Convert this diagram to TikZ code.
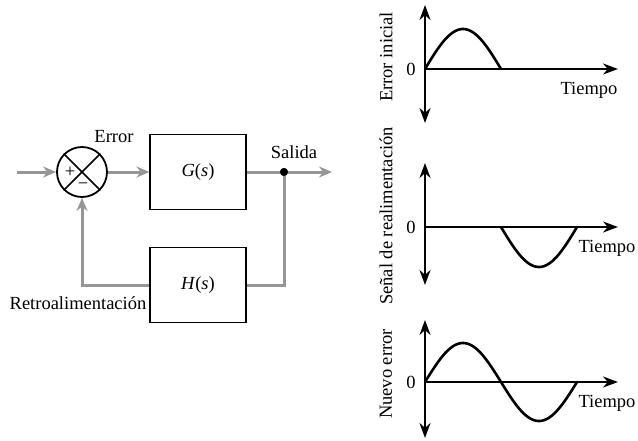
\documentclass[tikz,border=0pt]{standalone}
\usepackage{fontspec}
\setmainfont{Liberation Serif}
\usetikzlibrary{arrows.meta}
\definecolor{flow}{RGB}{150,150,150}
\begin{document}
\begin{tikzpicture}[x=1pt,y=-1pt,
  txt/.style={font=\fontsize{18.5}{22}\selectfont, inner sep=0pt},
  sig/.style={draw=flow, line width=3pt},
  sigarrow/.style={sig, -{Stealth[length=13pt,width=11pt]}},
  blockbox/.style={draw=black, line width=1.1pt, minimum width=96pt, minimum height=75pt, inner sep=0pt},
  axis/.style={draw=black, line width=2.2pt, {Stealth[length=15pt,width=11pt]}-{Stealth[length=15pt,width=11pt]}},
  xaxis/.style={draw=black, line width=2.2pt, -{Stealth[length=15pt,width=11pt]}},
  wave/.style={draw=black, line width=2.6pt},
]
\useasboundingbox (0,0) rectangle (638,440);

% ---- block diagram ----
\coordinate (in) at (17,172);
\node[circle, draw=black, line width=1.8pt, minimum size=50pt, inner sep=0pt] (sum) at (82,172) {};
\draw[line width=1.5pt] (sum.north west) -- (sum.south east) (sum.north east) -- (sum.south west);
\node[txt] (plus) at (70,172) {+};
\node[txt] (minus) at (83,186) {−};
\node[blockbox, txt] (G) at (198,172) {\textit{G}(\textit{s})};
\node[blockbox, txt] (H) at (198,285) {\textit{H}(\textit{s})};
\node[circle, fill=black, minimum size=8pt, inner sep=0pt] (dot) at (284,172) {};
\coordinate (out) at (332,172);

\draw[sigarrow] (in) -- (sum.west);
\draw[sigarrow] (sum.east) -- (G.west);
\draw[sig] (G.east) -- (dot.center);
\draw[sigarrow] (dot.center) -- (out);
\draw[sig] (dot.center) |- (H.east);
\draw[sigarrow] (H.west) -| (sum.south);
\node[circle, fill=black, minimum size=8pt, inner sep=0pt] at (dot) {};

\node[txt] (lerr) at (114,137) {Error};
\node[txt] (lsal) at (294,152) {Salida};
\node[txt] (lret) at (78,303) {Retroalimentación};

% ---- plot 1 ----
\coordinate (o1) at (425,69);
\coordinate (t1) at (425,5);
\coordinate (b1) at (425,123);
\coordinate (r1) at (618,69);
\draw[axis] (b1) -- (t1);
\draw[xaxis] (o1) -- (r1);
\draw[wave] plot[domain=0:76, samples=60, smooth] ({425+\x},{69-40*sin(\x/76*180)});
\node[txt] (z1) at (411,69) {0};
\node[txt] (tp1) at (589,90) {Tiempo};
\node[txt, rotate=90] (y1) at (386,57) {Error inicial};

% ---- plot 2 ----
\coordinate (o2) at (425,227);
\coordinate (t2) at (425,163);
\coordinate (b2) at (425,285);
\coordinate (r2) at (618,227);
\draw[axis] (b2) -- (t2);
\draw[xaxis] (o2) -- (r2);
\draw[wave] plot[domain=76:152, samples=60, smooth] ({425+\x},{227-40*sin(\x/76*180)});
\node[txt] (z2) at (411,227) {0};
\node[txt] (tp2) at (607,248) {Tiempo};
\node[txt, rotate=90] (y2) at (386,216) {Señal de realimentación};

% ---- plot 3 ----
\coordinate (o3) at (425,382);
\coordinate (t3) at (425,320);
\coordinate (b3) at (425,438);
\coordinate (r3) at (618,382);
\draw[axis] (b3) -- (t3);
\draw[xaxis] (o3) -- (r3);
\draw[wave] plot[domain=0:152, samples=100, smooth] ({425+\x},{382-39*sin(\x/76*180)});
\node[txt] (z3) at (411,382) {0};
\node[txt] (tp3) at (607,403) {Tiempo};
\node[txt, rotate=90] (y3) at (386,374) {Nuevo error};
\end{tikzpicture}
\end{document}
